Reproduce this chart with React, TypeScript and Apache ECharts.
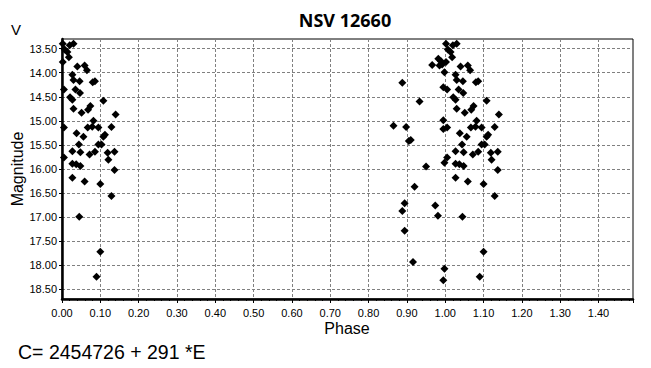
import React, { useEffect, useRef } from "react";
import * as echarts from "echarts";

// Each observation is plotted at its phase and, where it fits on the axis, at phase + 1.
const phases: number[] = [
  0.002, 0.02, 0.03, 0.007, 0.014, 0.018, 0.002, 0.04, 0.059, 0.065,
  0.027, 0.03, 0.046, 0.086, 0.08, 0.005, 0.035, 0.047, 0.021, 0.027,
  0.108, 0.074, 0.068, 0.03, 0.051, 0.14, 0.082, 0.005, 0.067, 0.079,
  0.095, 0.129, 0.038, 0.112, 0.056, 0.108, 0.095, 0.103, 0.044, 0.027,
  0.048, 0.086, 0.072, 0.119, 0.137, 0.005, 0.121, 0.027, 0.037, 0.048,
  0.137, 0.027, 0.059, 0.1, 0.129, 0.045, 0.1, 0.09,
  0.982, 0.989, 0.985, 0.966, 0.992, 0.998, 0.888, 0.995, 0.933, 0.865,
  0.898, 0.995, 0.995, 0.905, 0.91, 0.998, 0.95, 0.92, 0.894, 0.888,
  0.974, 0.981, 0.894, 0.916, 0.998, 0.995,
];
const magnitudes: number[] = [
  13.4, 13.43, 13.4, 13.52, 13.57, 13.68, 13.78, 13.87, 13.85, 13.95,
  14.04, 14.15, 14.18, 14.18, 14.2, 14.35, 14.35, 14.42, 14.51, 14.56,
  14.58, 14.69, 14.77, 14.75, 14.83, 14.87, 15.0, 15.14, 15.14, 15.12,
  15.14, 15.13, 15.26, 15.29, 15.33, 15.33, 15.49, 15.49, 15.49, 15.63,
  15.65, 15.64, 15.7, 15.66, 15.64, 15.76, 15.81, 15.89, 15.9, 15.94,
  16.02, 16.18, 16.26, 16.31, 16.56, 16.99, 17.72, 18.24,
  13.71, 13.76, 13.85, 13.84, 13.83, 13.99, 14.21, 14.3, 14.6, 15.1,
  15.13, 14.99, 15.17, 15.42, 15.4, 15.87, 15.95, 16.37, 16.71, 16.87,
  16.76, 16.97, 17.28, 17.93, 18.07, 18.31,
];

const X_MIN = 0;
const X_MAX = 1.49;
const Y_MIN = 13.3;
const Y_MAX = 18.7;
const yTickValues: number[] = [13.5, 14.0, 14.5, 15.0, 15.5, 16.0, 16.5, 17.0, 17.5, 18.0, 18.5];

const titleText = "NSV 12660";
const xName = "Phase";
const yName = "Magnitude";
const bandName = "V";
const ephemeris = "C= 2454726 + 291 *E";

export default function App() {
  const ref = useRef<HTMLDivElement>(null);

  useEffect(() => {
    if (!ref.current) return;
    const chart = echarts.init(ref.current, undefined, { renderer: "svg" });

    const points: number[][] = [];
    phases.forEach((p, i) => {
      points.push([p, magnitudes[i]]);
      if (p + 1 <= X_MAX) points.push([p + 1, magnitudes[i]]);
    });

    const labelFont = "'Liberation Sans', Arial, sans-serif";
    const dash = { color: "#808080", width: 1, type: [3, 2] as number[] };

    chart.setOption({
      animation: false,
      backgroundColor: "#fff",
      grid: {
        left: 62,
        right: 18,
        top: 39,
        bottom: 69,
        show: true,
        borderColor: "#000",
        borderWidth: 1,
        backgroundColor: "#fff",
      },
      xAxis: {
        type: "value",
        min: X_MIN,
        max: X_MAX,
        interval: 0.1,
        axisLine: { show: true, onZero: false, lineStyle: { color: "#000", width: 2.5 } },
        axisTick: { show: true, length: 4, lineStyle: { color: "#000" } },
        minorTick: { show: true, splitNumber: 5, length: 2, lineStyle: { color: "#000" } },
        axisLabel: {
          color: "#000",
          fontSize: 11,
          fontFamily: labelFont,
          margin: 8,
          showMaxLabel: false,
          formatter: (v: number) => v.toFixed(2),
        },
        splitLine: { show: true, lineStyle: dash },
      },
      yAxis: {
        type: "value",
        inverse: true,
        min: Y_MIN,
        max: Y_MAX,
        axisLine: { show: true, onZero: false, lineStyle: { color: "#000", width: 2.5 } },
        axisTick: { show: true, length: 3, customValues: yTickValues, lineStyle: { color: "#000" } },
        axisLabel: {
          color: "#000",
          fontSize: 11,
          fontFamily: labelFont,
          margin: 5,
          customValues: yTickValues,
          formatter: (v: number) => v.toFixed(2),
        },
        splitLine: { show: true, lineStyle: dash },
      },
      series: [
        {
          type: "scatter",
          symbol: "diamond",
          symbolSize: 8,
          itemStyle: { color: "#000", opacity: 1 },
          data: points,
          z: 5,
        },
      ],
      graphic: [
        {
          type: "text",
          x: 345,
          y: 20,
          style: {
            text: titleText,
            fill: "#000",
            font: "bold 18px 'Open Sans', sans-serif",
            textAlign: "center",
            textVerticalAlign: "middle",
          },
        },
        {
          type: "text",
          x: 16,
          y: 29,
          style: {
            text: bandName,
            fill: "#000",
            font: "15px 'Liberation Sans', Arial, sans-serif",
            textAlign: "center",
            textVerticalAlign: "middle",
          },
        },
        {
          type: "text",
          x: 17,
          y: 169,
          rotation: Math.PI / 2,
          style: {
            text: yName,
            fill: "#000",
            font: "16px 'Liberation Sans', Arial, sans-serif",
            textAlign: "center",
            textVerticalAlign: "middle",
          },
        },
        {
          type: "text",
          x: 347,
          y: 328,
          style: {
            text: xName,
            fill: "#000",
            font: "16px 'Liberation Sans', Arial, sans-serif",
            textAlign: "center",
            textVerticalAlign: "middle",
          },
        },
        {
          type: "text",
          x: 18,
          y: 352,
          style: {
            text: ephemeris,
            fill: "#000",
            font: "19.5px 'Liberation Sans', Arial, sans-serif",
            textAlign: "left",
            textVerticalAlign: "middle",
          },
        },
      ],
    });

    return () => chart.dispose();
  }, []);

  return <div ref={ref} style={{ width: 651, height: 368, position: "absolute", left: 0, top: 0 }} />;
}
